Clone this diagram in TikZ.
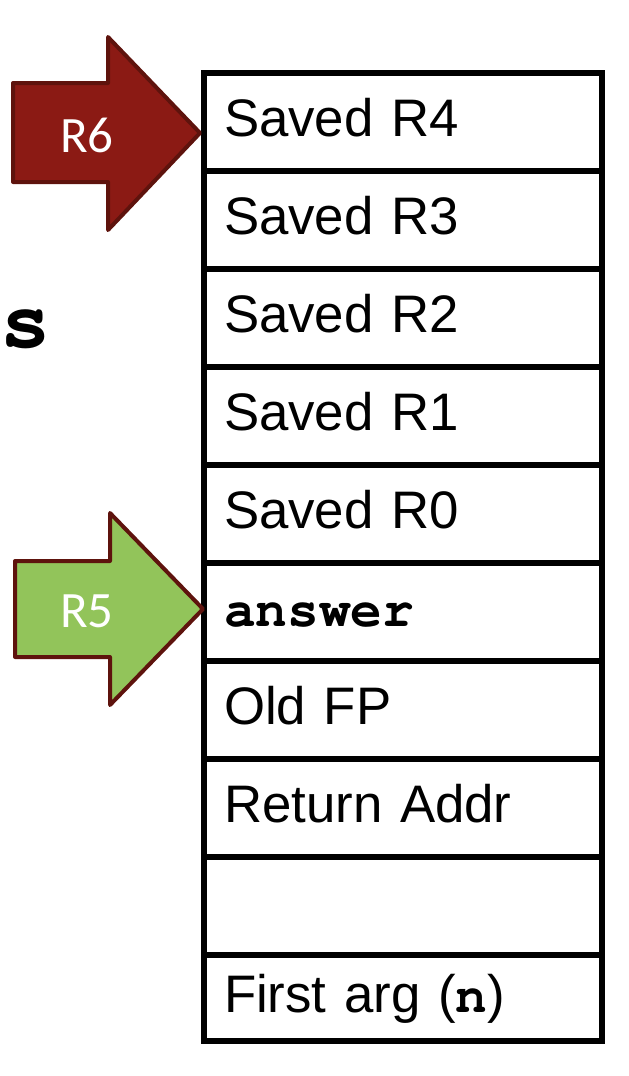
\documentclass[tikz,border=0pt]{standalone}
\usepackage{fontspec}
\setmainfont{Liberation Sans}
\setmonofont{TeX Gyre Cursor}
\newfontfamily\ptrfont{Carlito}
\usetikzlibrary{positioning}

\definecolor{ptrred}{RGB}{139,26,20}
\definecolor{ptrgreen}{RGB}{146,196,90}
\definecolor{ptredge}{RGB}{94,19,13}

\begin{document}
\begin{tikzpicture}[
    x = 0.5pt,
    y = -0.5pt,
    node distance = 0pt,
    ]

    \tikzstyle{slot}=[
    draw = black,
    line width = 2.9pt,
    outer sep = 0pt,
    minimum width = 199pt,
    minimum height = 49pt,
    text width = 179pt,
    inner xsep = 10pt,
    align = left,
    font = \fontsize{26.4}{30}\selectfont,
    text height = 19.8pt,
    text depth = 5.3pt,
    ]
    \tikzstyle{pointer}=[
    draw = ptredge,
    line width = 2pt,
    line join = round,
    ]
    \tikzstyle{ptrlabel}=[
    text = white,
    inner sep = 0pt,
    font = \ptrfont\fontsize{25.5}{28}\selectfont,
    ]

    \useasboundingbox (0,0) rectangle (628,1076);

    % stack frame, top to bottom
    \node[slot, anchor=north west] (r4) at (204,73) {Saved R4};
    \node[slot] (r3) [below=of r4] {Saved R3};
    \node[slot] (r2) [below=of r3] {Saved R2};
    \node[slot] (r1) [below=of r2] {Saved R1};
    \node[slot] (r0) [below=of r1] {Saved R0};
    \node[slot] (ans) [below=of r0] {\texttt{\bfseries answer}};
    \node[slot] (oldfp) [below=of ans] {Old FP};
    \node[slot] (ret) [below=of oldfp] {Return Addr};
    \node[slot] (gap) [below=of ret] {};
    \node[slot, minimum height=43pt] (arg) [below=of gap] {First arg (\texttt{\bfseries n})};

    % cut-off title letter
    \node[anchor=base west, inner sep=0pt, font=\fontsize{42}{42}\selectfont\ttfamily\bfseries] (title) at (0,347) {s};

    % R6 and R5 pointers
    \draw[pointer, fill=ptrred] ([shift={(-4,11)}]r4.west) -- ++(-92,-96) -- ++(0,46) -- ++(-95,0)
        -- ++(0,99) -- ++(95,0) -- ++(0,48) -- cycle;
    \node[ptrlabel] (sp) at (87,135) {R6};

    \draw[pointer, fill=ptrgreen] ([shift={(-1,-3)}]ans.west) -- ++(-93,-96) -- ++(0,48) -- ++(-95,0)
        -- ++(0,96) -- ++(95,0) -- ++(0,48) -- cycle;
    \node[ptrlabel] (fp) at (87,611) {R5};
  \end{tikzpicture}
\end{document}
